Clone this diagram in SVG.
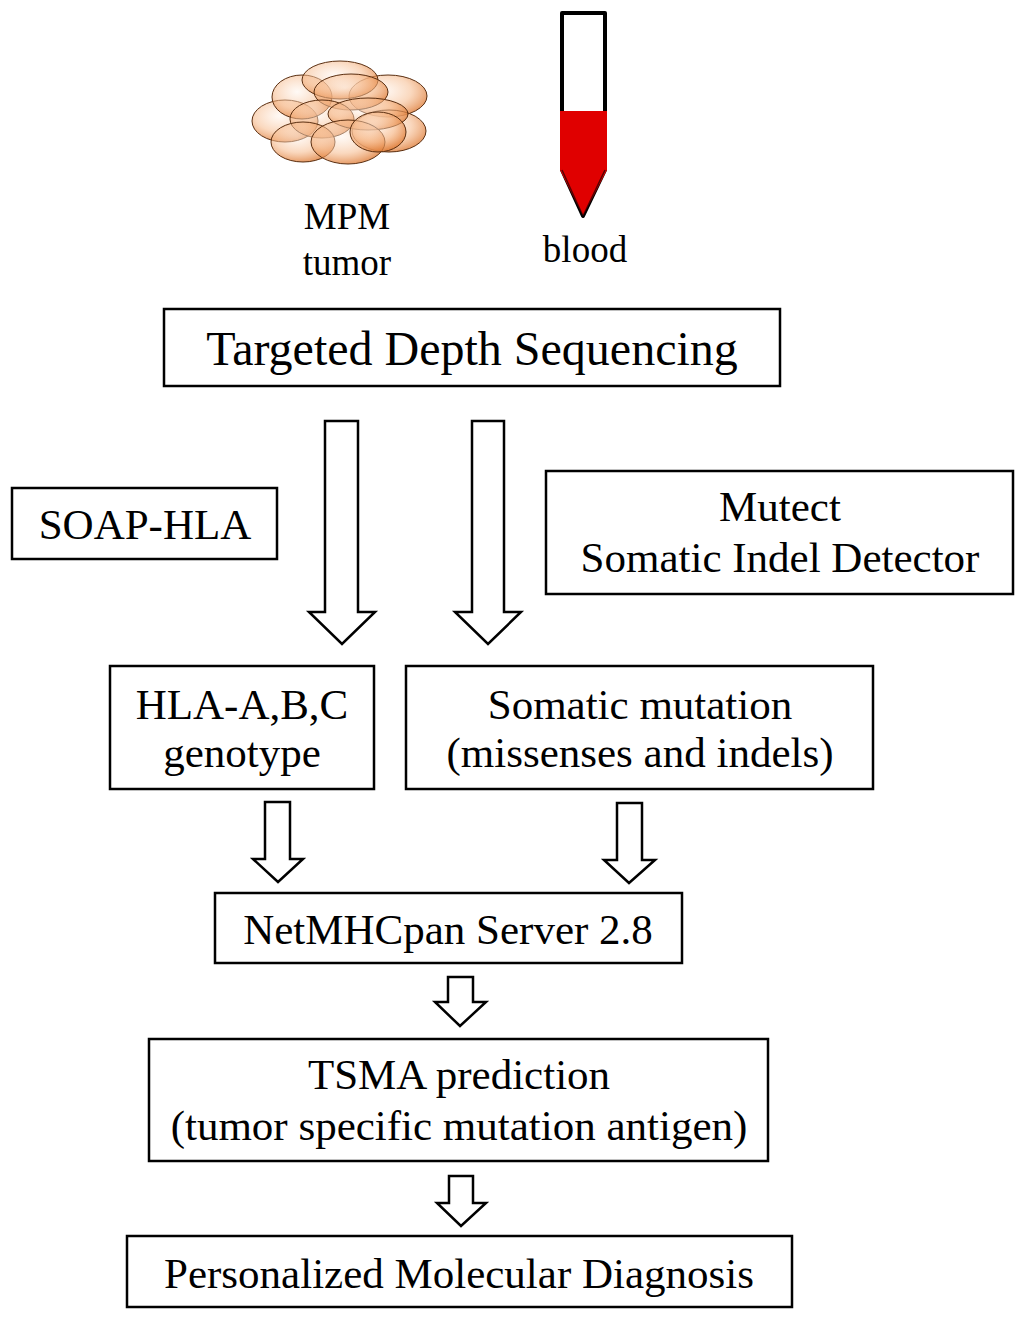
<svg xmlns="http://www.w3.org/2000/svg" width="1024" height="1318" viewBox="0 0 1024 1318">
<style>
.box{fill:#fff;stroke:#000;stroke-width:2.5}
.arr{fill:#fff;stroke:#000;stroke-width:2.5;stroke-linejoin:miter}
text{font-family:"Liberation Serif","Times New Roman",serif;fill:#000;text-anchor:middle}
.t43{font-size:43px}
.t48{font-size:48px}
.t37{font-size:37px}
.cell{fill:url(#cellg);stroke:#5a2e10;stroke-width:1}
</style>
<defs>
<radialGradient id="cellg" cx="0.42" cy="0.38" r="0.68">
<stop offset="0" stop-color="#fff3ea" stop-opacity="0.45"/>
<stop offset="0.55" stop-color="#f6b98a" stop-opacity="0.55"/>
<stop offset="1" stop-color="#d96d22" stop-opacity="0.8"/>
</radialGradient>
</defs>
<rect width="1024" height="1318" fill="#fff"/>
<g id="tumor">
<ellipse class="cell" cx="285" cy="121" rx="33" ry="21"/>
<ellipse class="cell" cx="302" cy="97" rx="30" ry="22"/>
<ellipse class="cell" cx="388" cy="96" rx="39" ry="21"/>
<ellipse class="cell" cx="389" cy="131" rx="37" ry="21"/>
<ellipse class="cell" cx="340" cy="80" rx="38" ry="19"/>
<ellipse class="cell" cx="351" cy="92" rx="37" ry="18"/>
<ellipse class="cell" cx="322" cy="119" rx="32" ry="19"/>
<ellipse class="cell" cx="368" cy="114" rx="40" ry="16"/>
<ellipse class="cell" cx="303" cy="142" rx="32" ry="20"/>
<ellipse class="cell" cx="348" cy="142" rx="37" ry="22"/>
<ellipse class="cell" cx="378" cy="132" rx="28" ry="20"/>
<text class="t37" x="347" y="229">MPM</text>
<text class="t37" x="347" y="275">tumor</text>
</g>
<g id="blood">
<path d="M562,13 H605 V170 L583,216 L562,170 Z" fill="#fff" stroke="#000" stroke-width="4" stroke-linejoin="round"/>
<path d="M560,111 H607 V170 L583,216 L560,170 Z" fill="#e00000"/>
<path d="M562,170 L583,216 L605,170" fill="none" stroke="#000" stroke-width="1.5" opacity="0.6"/>
<text class="t37" x="585" y="262">blood</text>
</g>
<g id="targeted">
<rect class="box" x="164" y="309" width="616" height="77"/>
<text class="t48" x="472" y="365">Targeted Depth Sequencing</text>
</g>
<g id="soap">
<rect class="box" x="12" y="488" width="265" height="71"/>
<text class="t43" x="145" y="539">SOAP-HLA</text>
</g>
<g id="mutect">
<rect class="box" x="546" y="471" width="467" height="123"/>
<text class="t43" x="780" y="521">Mutect</text>
<text class="t43" x="780" y="572">Somatic Indel Detector</text>
</g>
<g id="hla">
<rect class="box" x="110" y="666" width="264" height="123"/>
<text class="t43" x="242" y="719">HLA-A,B,C</text>
<text class="t43" x="242" y="767">genotype</text>
</g>
<g id="somatic">
<rect class="box" x="406" y="666" width="467" height="123"/>
<text class="t43" x="640" y="719">Somatic mutation</text>
<text class="t43" x="640" y="767">(missenses and indels)</text>
</g>
<g id="netmhc">
<rect class="box" x="215" y="893" width="467" height="70"/>
<text class="t43" x="448" y="944">NetMHCpan Server 2.8</text>
</g>
<g id="tsma">
<rect class="box" x="149" y="1039" width="619" height="122"/>
<text class="t43" x="459" y="1089">TSMA prediction</text>
<text class="t43" x="459" y="1140">(tumor specific mutation antigen)</text>
</g>
<g id="diagnosis">
<rect class="box" x="127" y="1236" width="665" height="71"/>
<text class="t43" x="459" y="1288">Personalized Molecular Diagnosis</text>
</g>
<g id="connectors">
<path class="arr" d="M325,421 H358 V612 H375 L342,644 L309,612 H325 Z"/>
<path class="arr" d="M472,421 H504 V612 H521 L488,644 L455,612 H472 Z"/>
<path class="arr" d="M265,802 H290 V859 H303 L278,882 L253,859 H265 Z"/>
<path class="arr" d="M617,803 H642 V860 H655 L629,883 L604,860 H617 Z"/>
<path class="arr" d="M448,977 H473 V1002 H486 L460,1026 L435,1002 H448 Z"/>
<path class="arr" d="M449,1176 H473 V1203 H486 L461,1226 L437,1203 H449 Z"/>
</g>
</svg>
